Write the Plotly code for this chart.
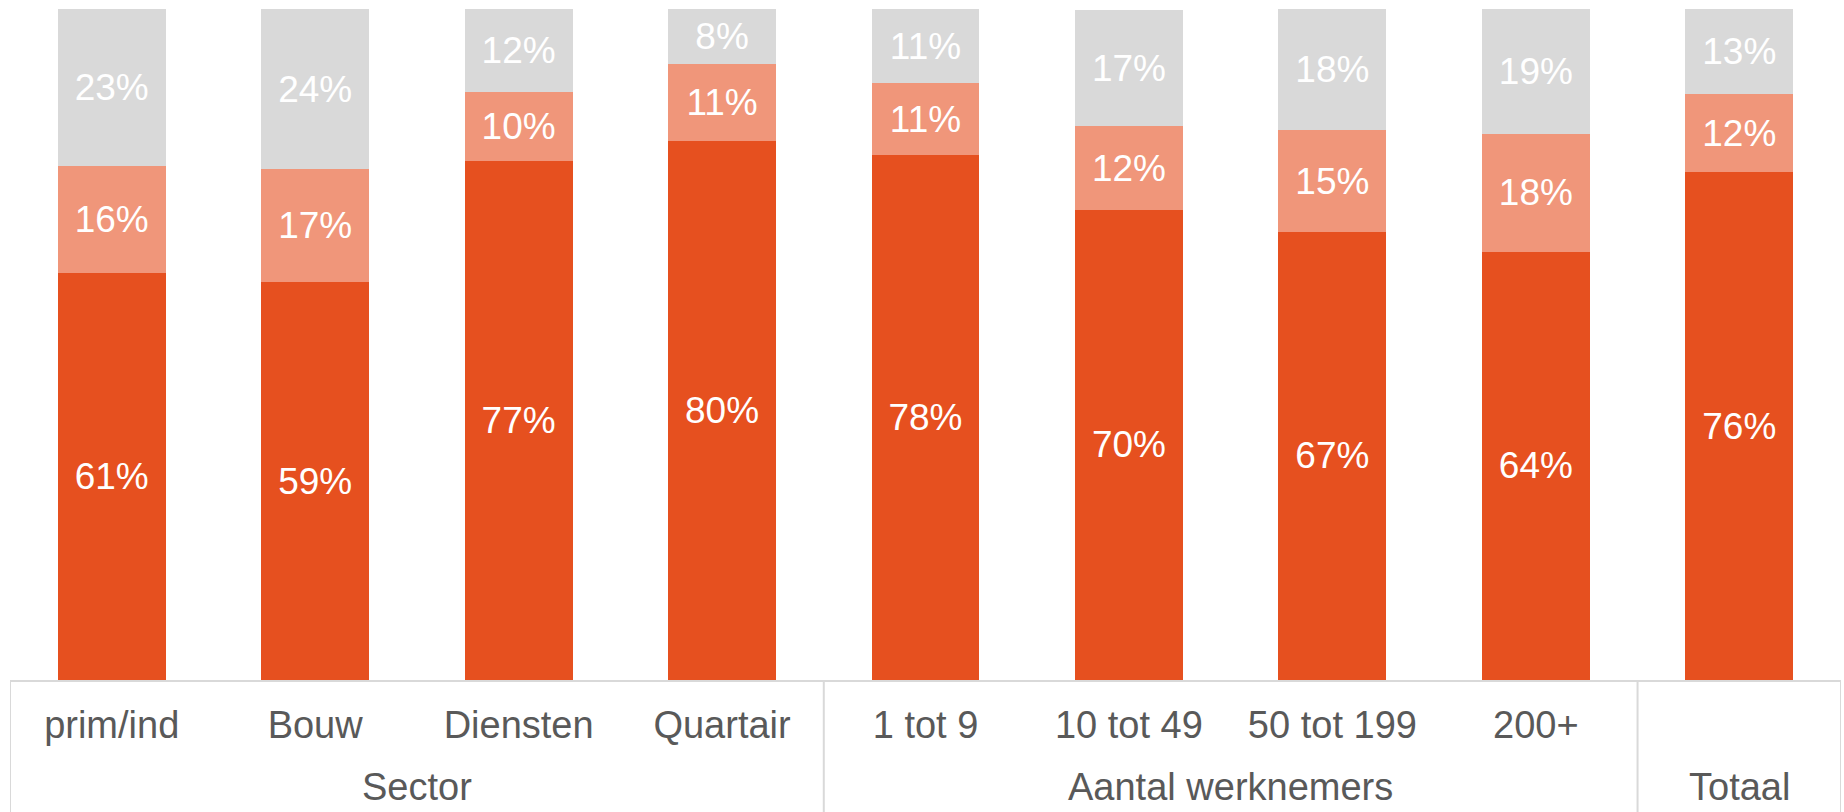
import plotly.graph_objects as go

categories = ["prim/ind", "Bouw", "Diensten", "Quartair", "1 tot 9", "10 tot 49", "50 tot 199", "200+", ""]
groups = ["Sector", "Aantal werknemers", "Totaal"]
group_spans = [(0, 3), (4, 7), (8, 8)]

dark = [60.7, 59.3, 77.4, 80.4, 78.2, 70.1, 66.8, 63.8, 75.7]
mid = [15.9, 16.8, 10.3, 11.4, 10.7, 12.4, 15.1, 17.6, 11.6]
gray = [23.4, 23.9, 12.3, 8.2, 11.1, 17.4, 18.1, 18.6, 12.7]

colors = ["#E6501F", "#F0967A", "#D9D9D9"]
xs = list(range(len(categories)))
FONT = "Liberation Sans, Arial, sans-serif"

fig = go.Figure()
for vals, col in zip([dark, mid, gray], colors):
    fig.add_trace(go.Bar(
        x=xs, y=vals, marker=dict(color=col, line=dict(width=0)),
        text=[f"{v:.0f}%" for v in vals], textposition="inside",
        insidetextanchor="middle", textangle=0, constraintext="none",
        textfont=dict(color="white", size=37, family=FONT),
        hoverinfo="skip",
    ))

line_col = "#D9D9D9"
shapes = []
for xv in [-0.5, 3.5, 7.5, 8.5]:
    shapes.append(dict(type="line", xref="x", yref="paper", x0=xv, x1=xv, y0=0, y1=-0.3,
                       line=dict(color=line_col, width=2)))

annotations = []
for g, (a, b) in zip(groups, group_spans):
    annotations.append(dict(text=g, x=(a + b) / 2, xref="x", y=-0.125, yref="paper",
                            yanchor="top", showarrow=False,
                            font=dict(size=38, color="#595959", family=FONT)))

fig.update_layout(
    barmode="stack", bargap=0.47, showlegend=False,
    width=1844, height=812,
    margin=dict(l=10, r=3, t=9, b=132),
    paper_bgcolor="white", plot_bgcolor="white",
    shapes=shapes, annotations=annotations,
    xaxis=dict(range=[-0.5, 8.5], tickmode="array", tickvals=xs, ticktext=categories,
               tickfont=dict(size=38, color="#595959", family=FONT),
               ticks="outside", ticklen=10, tickcolor="rgba(0,0,0,0)",
               showline=True, linecolor=line_col, linewidth=2, showgrid=False, zeroline=False),
    yaxis=dict(range=[0, 100], visible=False, showgrid=False, zeroline=False),
)

fig.write_html("out.html", config={"displayModeBar": False},
               post_script="document.body.style.margin='0';document.body.style.overflow='hidden';")
